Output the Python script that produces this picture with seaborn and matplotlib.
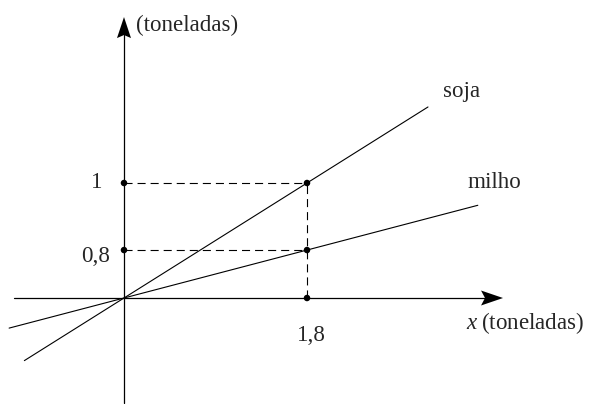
import matplotlib
matplotlib.use('Agg')
import matplotlib.pyplot as plt
import numpy as np
import pandas as pd
import seaborn as sns

# --- data (the drawing is schematic: 0,8 is not drawn to scale) ---
x_mark = 1.8
x_mark_label = '1,8'
crops = ['soja', 'milho']
levels = [1.0, 0.417]          # drawn heights at x = 1,8
level_labels = ['1', '0,8']
line_start = [-0.98, -1.13]    # x where each line begins
line_end = [2.99, 3.48]        # x where each line ends

sns.set_theme(style='white')
plt.rcParams['font.family'] = ['Liberation Serif', 'DejaVu Serif']
plt.rcParams['mathtext.fontset'] = 'custom'
plt.rcParams['mathtext.rm'] = 'Liberation Serif'
plt.rcParams['mathtext.it'] = 'Liberation Serif:italic'
plt.rcParams['lines.scale_dashes'] = False

fig = plt.figure(figsize=(5.94, 4.04), dpi=100)
ax = fig.add_axes([0, 0, 1, 1])
ax.set_xlim(-1.2196, 4.6228)
ax.set_ylim(-0.9217, 2.5913)
ax.axis('off')

# pixel -> data conversion for the arrow heads
px_x = (4.6228 + 1.2196) / 594
px_y = (2.5913 + 0.9217) / 404

# axes
x_axis_start, x_axis_tip = -1.082, 3.728
y_axis_start, y_axis_tip = -0.913, 2.443
ax.plot([x_axis_start, x_axis_tip - 18 * px_x], [0, 0], color='black', lw=0.9)
ax.plot([0, 0], [y_axis_start, y_axis_tip - 18 * px_y], color='black', lw=0.9)
ax.fill([x_axis_tip, x_axis_tip - 22 * px_x, x_axis_tip - 18 * px_x, x_axis_tip - 22 * px_x],
        [0, 7.5 * px_y, 0, -7.5 * px_y], color='black', lw=0)
ax.fill([0, 7 * px_x, 0, -7 * px_x],
        [y_axis_tip, y_axis_tip - 21 * px_y, y_axis_tip - 18 * px_y, y_axis_tip - 21 * px_y],
        color='black', lw=0)

# crop lines through the origin
rows = []
for crop, lvl, xs, xe in zip(crops, levels, line_start, line_end):
    slope = lvl / x_mark
    rows.append({'crop': crop, 'x': xs, 'y': slope * xs})
    rows.append({'crop': crop, 'x': xe, 'y': slope * xe})
lines_df = pd.DataFrame(rows)
sns.lineplot(data=lines_df, x='x', y='y', units='crop', estimator=None, sort=False,
             color='black', lw=0.8, ax=ax)

# dashed guides
for lvl in levels:
    ax.plot([0, x_mark], [lvl, lvl], color='black', lw=0.8, dashes=(5.8, 3.6))
ax.plot([x_mark, x_mark], [0, max(levels)], color='black', lw=0.8, dashes=(5.8, 3.6))

# dots
pts = pd.DataFrame({
    'x': [x_mark] * len(levels) + [0] * len(levels) + [x_mark],
    'y': levels + levels + [0],
})
sns.scatterplot(data=pts, x='x', y='y', color='black', s=22, edgecolor='none', ax=ax, zorder=5)

# labels
fs = 16.6
ax.text(0.118, 2.322, '(toneladas)', fontsize=fs, ha='left', va='baseline')
ax.text(3.138, 1.748, crops[0], fontsize=fs, ha='left', va='baseline')
ax.text(3.374, 0.957, crops[1], fontsize=fs, ha='left', va='baseline')
ax.text(-0.216, 0.957, level_labels[0], fontsize=fs, ha='right', va='baseline')
ax.text(-0.138, 0.313, level_labels[1], fontsize=fs, ha='right', va='baseline')
ax.text(x_mark + 4 * px_x, -0.374, x_mark_label, fontsize=fs, ha='center', va='baseline')
ax.text(3.36, -0.27, r'$x\;$(toneladas)', fontsize=fs, ha='left', va='baseline')

fig.savefig('out.png', dpi=100, facecolor='white')
